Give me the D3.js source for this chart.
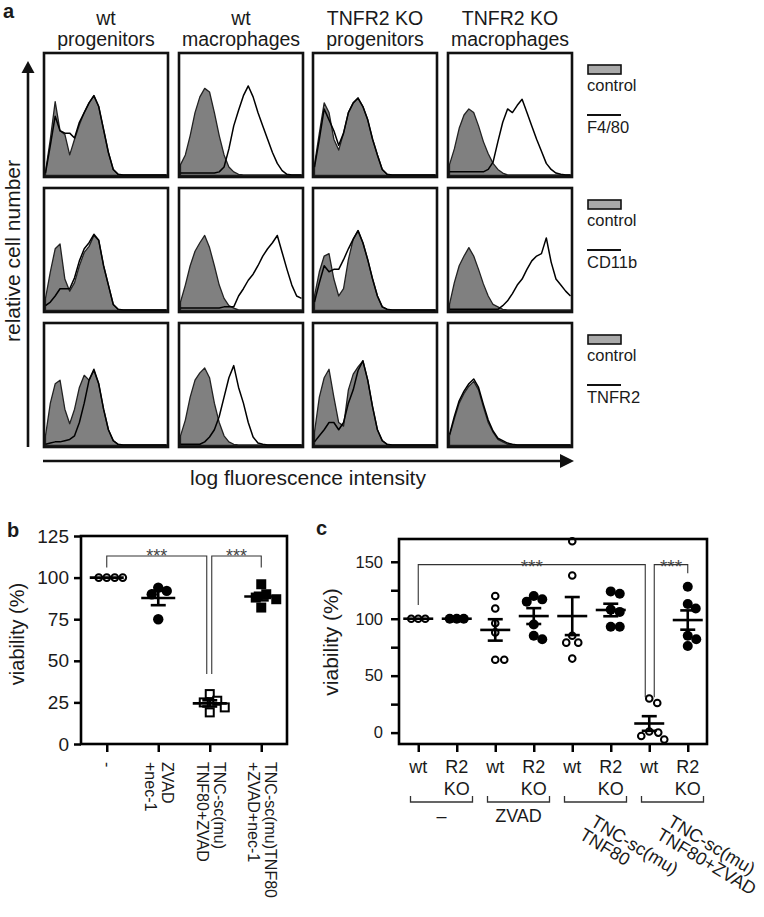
<!DOCTYPE html>
<html><head><meta charset="utf-8">
<script src="https://cdn.jsdelivr.net/npm/d3@7"></script>
<style>body{margin:0;background:#fff}</style>
</head><body>
<svg id="chart" width="764" height="917"></svg>
<script>
// ---------------- DATA ----------------
// Panel a: flow cytometry histograms, sampled at log-intensity bins (0..100)
const binCenters = [0,4,8,12,16,20,24,28,32,36,40,44,48,52,56,60,64,68,72,76,80,84,88,92,96,100];
const colTitles = [["wt","progenitors"],["wt","macrophages"],["TNFR2 KO","progenitors"],["TNFR2 KO","macrophages"]];
const markers = ["F4/80","CD11b","TNFR2"];
const legendControl = "control";

const ctrlF480 = [
  [3,30,61,37,34,17,30,42,52,60,66,57,38,19,5,1,0.5,0.5,0.5,0.5,0.5,0.5,0.5,0.5,0.5,0.5],
  [9,17,33,52,65,72,69,52,33,17,7,3,1,0.5,0.5,0.5,0.5,0.5,0.5,0.5,0.5,0.5,0.5,0.5,0.5,0.5],
  [9,35,60,52,30,21,35,52,60,64,57,46,30,17,5,1,0.5,0.5,0.5,0.5,0.5,0.5,0.5,0.5,0.5,0.5],
  [9,22,39,50,55,52,41,28,18,10,5,2,0.5,0.5,0.5,0.5,0.5,0.5,0.5,0.5,0.5,0.5,0.5,0.5,0.5,0.5]
];
const stainF480 = [
  [2,25,49,37,35,35,31,44,52,60,66,57,38,19,5,1,0.5,0.5,0.5,0.5,0.5,0.5,0.5,0.5,0.5,0.5],
  [2,2,2,2,2,2,2,2,3,7,22,41,54,66,74,65,52,41,30,19,10,4,1,0.5,0.5,0.5],
  [7,30,55,46,37,25,35,52,60,64,57,46,30,17,5,1,0.5,0.5,0.5,0.5,0.5,0.5,0.5,0.5,0.5,0.5],
  [3,3,3,3,3,3,3,3,5,11,28,44,55,52,58,63,52,41,30,20,10,5,2,1,0.5,0.5]
];
const ctrlCD11b = [
  [10,32,51,55,26,16,23,37,48,53,62,58,37,21,5,1,0.5,0.5,0.5,0.5,0.5,0.5,0.5,0.5,0.5,0.5],
  [7,21,37,49,56,62,52,37,21,10,4,2,0.5,0.5,0.5,0.5,0.5,0.5,0.5,0.5,0.5,0.5,0.5,0.5,0.5,0.5],
  [12,32,45,47,26,12,18,42,59,66,56,42,26,12,3,1,0.5,0.5,0.5,0.5,0.5,0.5,0.5,0.5,0.5,0.5],
  [5,23,37,45,52,45,34,22,12,5,3,1,0.5,0.5,0.5,0.5,0.5,0.5,0.5,0.5,0.5,0.5,0.5,0.5,0.5,0.5]
];
const stainCD11b = [
  [4,7,12,18,18,18,27,41,51,56,63,58,37,21,5,1,0.5,0.5,0.5,0.5,0.5,0.5,0.5,0.5,0.5,0.5],
  [2,2,2,2,2,2,2,2,2,3,3,3,12,18,25,30,37,45,51,56,62,48,34,21,12,10],
  [7,23,37,32,34,34,42,51,59,66,56,42,26,12,3,1,0.5,0.5,0.5,0.5,0.5,0.5,0.5,0.5,0.5,0.5],
  [1,1,1,1,1,1,1,1,1,1,1,4,8,14,21,26,34,41,45,47,60,40,26,21,16,12]
];
const ctrlTNFR2 = [
  [8,35,51,54,30,18,30,48,58,54,62,51,30,13,4,1,0.5,0.5,0.5,0.5,0.5,0.5,0.5,0.5,0.5,0.5],
  [8,21,40,54,60,64,56,35,19,8,3,1,0.5,0.5,0.5,0.5,0.5,0.5,0.5,0.5,0.5,0.5,0.5,0.5,0.5,0.5],
  [11,40,56,63,40,19,16,46,59,65,70,54,32,13,4,1,0.5,0.5,0.5,0.5,0.5,0.5,0.5,0.5,0.5,0.5],
  [8,22,35,43,49,53,46,32,19,11,5,3,1,0.5,0.5,0.5,0.5,0.5,0.5,0.5,0.5,0.5,0.5,0.5,0.5,0.5]
];
const stainTNFR2 = [
  [1,2,3,3,4,5,8,19,35,54,63,51,30,13,4,1,0.5,0.5,0.5,0.5,0.5,0.5,0.5,0.5,0.5,0.5],
  [1,1,1,1,1,3,7,13,24,40,56,66,48,35,19,7,2,1,0.5,0.5,0.5,0.5,0.5,0.5,0.5,0.5],
  [3,8,13,19,19,13,19,35,46,62,70,54,32,13,4,1,0.5,0.5,0.5,0.5,0.5,0.5,0.5,0.5,0.5,0.5],
  [9,24,37,45,51,55,48,34,21,12,6,4,2,1,0.5,0.5,0.5,0.5,0.5,0.5,0.5,0.5,0.5,0.5,0.5,0.5]
];

// Panel b
const bCategories = [["-"],["ZVAD","+nec-1"],["TNC-sc(mu)","TNF80+ZVAD"],["TNC-sc(mu)TNF80","+ZVAD+nec-1"]];
const bValues = [[100,100,100,100],[92,90,94,75],[30,26,25,22,19],[96,90,88,87,82]];
const bMarkers = ["circleOpen","circle","squareOpen","square"];
const bTicks = [0,25,50,75,100,125];

// Panel c
const cGenotypes = ["wt",["R2","KO"],"wt",["R2","KO"],"wt",["R2","KO"],"wt",["R2","KO"]];
const cValues = [
  [100,100,100],[100,100,100],
  [120,109,96,88,64,64],[120,117,115,95,85,82],
  [168,138,85,79,79,65],[124,122,108,106,93,93],
  [30,26,1,0,-3,-6],[128,113,109,85,82,76]
];
const cMarkers = ["circleOpen","circle","circleOpen","circle","circleOpen","circle","circleOpen","circle"];
const cTreatments = [["–"],["ZVAD"],["TNC-sc(mu)","TNF80"],["TNC-sc(mu)","TNF80+ZVAD"]];
const cTicks = [0,25,50,75,100,125,150];
const yTitle = "viability (%)";
const stars = "***";

// ---------------- DRAW ----------------
const FONT = "'Liberation Sans', Arial, Helvetica, sans-serif";
const svg = d3.select("#chart").style("font-family", FONT);
svg.append("rect").attr("width",764).attr("height",917).attr("fill","#fff");
const INK = "#1a1a1a";

// ===== Panel a =====
svg.append("text").text("a").attr("x",3).attr("y",18).attr("font-weight","bold").attr("font-size",20).attr("fill",INK);
const colX = [44,179,313,448], rowY = [53,188,323], BW = 124, BH = 124;
colTitles.forEach((t, ci) => {
  t.forEach((s, li) => {
    svg.append("text").text(s).attr("x", colX[ci] + BW/2).attr("y", 25 + li*21)
      .attr("text-anchor","middle").attr("font-size",19.5).attr("fill",INK);
  });
});
const rowsData = [
  {ctrl: ctrlF480, stain: stainF480, name: markers[0]},
  {ctrl: ctrlCD11b, stain: stainCD11b, name: markers[1]},
  {ctrl: ctrlTNFR2, stain: stainTNFR2, name: markers[2]}
];
rowsData.forEach((row, ri) => {
  const y0 = rowY[ri];
  colX.forEach((x0, ci) => {
    const x = d3.scaleLinear([0,100],[x0+1.5, x0+BW-1.5]);
    const y = d3.scaleLinear([0,100],[y0+BH-1.5, y0+1.5]);
    const area = d3.area().x((d,i)=>x(binCenters[i])).y0(y(0)).y1(d=>y(d));
    const line = d3.line().x((d,i)=>x(binCenters[i])).y(d=>y(d));
    svg.append("path").attr("d", area(row.ctrl[ci])).attr("fill","#808080")
      .attr("stroke","#222").attr("stroke-width",1.3).attr("stroke-linejoin","round");
    svg.append("path").attr("d", line(row.stain[ci])).attr("fill","none")
      .attr("stroke","#000").attr("stroke-width",1.5).attr("stroke-linejoin","round");
    svg.append("rect").attr("x",x0).attr("y",y0).attr("width",BW).attr("height",BH)
      .attr("fill","none").attr("stroke","#111").attr("stroke-width",2.6);
  });
  // legend
  svg.append("rect").attr("x",588).attr("y",y0+12).attr("width",33).attr("height",9)
    .attr("fill","#a9a9a9").attr("stroke","#111").attr("stroke-width",1.6);
  svg.append("text").text(legendControl).attr("x",587).attr("y",y0+38).attr("font-size",16.5).attr("fill",INK);
  svg.append("line").attr("x1",587).attr("x2",621).attr("y1",y0+62).attr("y2",y0+62).attr("stroke","#111").attr("stroke-width",2);
  svg.append("text").text(row.name).attr("x",587).attr("y",y0+80).attr("font-size",16.5).attr("fill",INK);
});
// axis arrows
svg.append("line").attr("x1",28).attr("x2",28).attr("y1",447).attr("y2",70).attr("stroke","#111").attr("stroke-width",2.6);
svg.append("path").attr("d","M28,61 L21.5,73 L34.5,73 Z").attr("fill","#111");
svg.append("line").attr("x1",43).attr("x2",562).attr("y1",461).attr("y2",461).attr("stroke","#111").attr("stroke-width",2.6);
svg.append("path").attr("d","M574,461 L560,454 L560,468 Z").attr("fill","#111");
svg.append("text").text("relative cell number").attr("transform","translate(20,251) rotate(-90)")
  .attr("text-anchor","middle").attr("font-size",21).attr("fill",INK);
svg.append("text").text("log fluorescence intensity").attr("x",308).attr("y",485)
  .attr("text-anchor","middle").attr("font-size",21).attr("fill",INK);

// ===== helpers =====
function swarmOffsets(vals, yScale, d) {
  const placed = [], off = new Array(vals.length);
  const order = d3.range(vals.length).sort((a,b)=>d3.descending(vals[a],vals[b]));
  for (const i of order) {
    const py = yScale(vals[i]);
    for (let k=0; k<400; k++) {
      const dx = (k%2===1 ? 1 : -1) * Math.ceil(k/2) * 0.5;
      if (placed.every(p => (p.x-dx)**2 + (p.y-py)**2 >= d*d)) {
        off[i] = dx === 0 ? 0 : dx; placed.push({x:dx, y:py}); break;
      }
    }
  }
  return off;
}
function drawMarker(gs, type, cx, cy, sz) {
  if (type === "circleOpen") {
    gs.append("circle").attr("cx",cx).attr("cy",cy).attr("r",sz.ro).attr("fill","#fff").attr("stroke","#000").attr("stroke-width",2);
  } else if (type === "circle") {
    gs.append("circle").attr("cx",cx).attr("cy",cy).attr("r",sz.rf).attr("fill","#000");
  } else if (type === "squareOpen") {
    gs.append("rect").attr("x",cx-sz.so/2).attr("y",cy-sz.so/2).attr("width",sz.so).attr("height",sz.so).attr("fill","#fff").attr("stroke","#000").attr("stroke-width",2);
  } else {
    gs.append("rect").attr("x",cx-sz.sf/2).attr("y",cy-sz.sf/2).attr("width",sz.sf).attr("height",sz.sf).attr("fill","#000");
  }
}
function drawGroup(gs, vals, type, xc, y, sz, spacing, meanW, capW) {
  const offs = swarmOffsets(vals, y, spacing);
  vals.forEach((v,i)=>drawMarker(gs, type, xc+offs[i], y(v), sz));
  const m = d3.mean(vals);
  const sem = vals.length > 1 ? d3.deviation(vals)/Math.sqrt(vals.length) : 0;
  const sw = 2.6;
  gs.append("line").attr("x1",xc-meanW/2).attr("x2",xc+meanW/2).attr("y1",y(m)).attr("y2",y(m)).attr("stroke","#000").attr("stroke-width",sw);
  if (sem > 0.3) {
    gs.append("line").attr("x1",xc).attr("x2",xc).attr("y1",y(m-sem)).attr("y2",y(m+sem)).attr("stroke","#000").attr("stroke-width",sw);
    [m-sem, m+sem].forEach(e => gs.append("line").attr("x1",xc-capW/2).attr("x2",xc+capW/2).attr("y1",y(e)).attr("y2",y(e)).attr("stroke","#000").attr("stroke-width",sw));
  }
}
function bracket(gs, pts, y) {
  const line = d3.line().x(d=>d[0]).y(d=>y(d[1]));
  gs.append("path").attr("d", line(pts)).attr("fill","none").attr("stroke","#333").attr("stroke-width",1.1);
}

// ===== Panel b =====
{
  const L=81, R=287, T=536, B=744;
  const x = d3.scalePoint().domain(d3.range(bValues.length)).range([L,R]).padding(0.5);
  const y = d3.scaleLinear([0,125],[B,T]);
  const gb = svg.append("g");
  gb.append("text").text("b").attr("x",7).attr("y",537).attr("font-weight","bold").attr("font-size",20).attr("fill",INK);
  const ax = gb.append("g").attr("transform",`translate(${L},0)`)
    .call(d3.axisLeft(y).tickValues(bTicks).tickSize(7).tickPadding(5));
  ax.select(".domain").remove();
  ax.selectAll("line").attr("stroke","#000").attr("stroke-width",2.5);
  ax.selectAll("text").attr("font-size",19).attr("font-family",FONT).attr("fill",INK);
  const axb = gb.append("g").attr("transform",`translate(0,${B})`)
    .call(d3.axisBottom(x).tickSize(8).tickFormat(""));
  axb.select(".domain").remove();
  axb.selectAll("line").attr("stroke","#000").attr("stroke-width",2.5);
  gb.append("text").text(yTitle).attr("transform","translate(24,634) rotate(-90)")
    .attr("text-anchor","middle").attr("font-size",20).attr("fill",INK);
  // brackets
  bracket(gb, [[x(0),106],[x(0),113],[x(2)-3,113],[x(2)-3,42]], y);
  bracket(gb, [[x(2)+2,42],[x(2)+2,113],[x(3),113],[x(3),106]], y);
  [[x(0),x(2)-3],[x(2)+2,x(3)]].forEach(([a,b]) => gb.append("text").text(stars)
    .attr("x",(a+b)/2).attr("y",562).attr("text-anchor","middle").attr("font-size",18).attr("fill","#444"));
  // data
  const sz = {ro:3.4, rf:5.2, so:8, sf:10};
  const spacing = [8, 9, 10, 11];
  bValues.forEach((vals, gi) => drawGroup(gb, vals, bMarkers[gi], x(gi), y, sz, spacing[gi], 34, 15));
  gb.append("rect").attr("x",L).attr("y",T).attr("width",R-L).attr("height",B-T).attr("fill","none").attr("stroke","#000").attr("stroke-width",2.6);
  // category labels (rotated)
  bCategories.forEach((lines, gi) => {
    lines.forEach((s, li) => {
      const off = lines.length === 1 ? -5 : (li === 0 ? 4 : -13);
      gb.append("text").text(s).attr("transform",`translate(${x(gi)+off},762) rotate(90)`)
        .attr("font-size",16).attr("fill",INK);
    });
  });
}

// ===== Panel c =====
{
  const L=399, R=707, T=539, B=744;
  const x = d3.scalePoint().domain(d3.range(cValues.length)).range([L,R]).padding(0.5);
  const y = d3.scaleLinear([-10,170],[B,T]);
  const gc = svg.append("g");
  gc.append("text").text("c").attr("x",316).attr("y",535).attr("font-weight","bold").attr("font-size",20).attr("fill",INK);
  const ax = gc.append("g").attr("transform",`translate(${L},0)`)
    .call(d3.axisLeft(y).tickValues(cTicks).tickSize(8).tickPadding(8).tickFormat(d => d % 50 === 0 ? d : ""));
  ax.select(".domain").remove();
  ax.selectAll("line").attr("stroke","#000").attr("stroke-width",2.5);
  ax.selectAll("text").attr("font-size",16.5).attr("font-family",FONT).attr("fill",INK);
  const axb = gc.append("g").attr("transform",`translate(0,${B})`)
    .call(d3.axisBottom(x).tickSize(8).tickFormat(""));
  axb.select(".domain").remove();
  axb.selectAll("line").attr("stroke","#000").attr("stroke-width",2.5);
  gc.append("text").text(yTitle).attr("transform","translate(338,642) rotate(-90)")
    .attr("text-anchor","middle").attr("font-size",21).attr("fill",INK);
  // brackets
  bracket(gc, [[x(0),112],[x(0),147.5],[x(6)-4,147.5],[x(6)-4,31]], y);
  bracket(gc, [[x(6)+5,31],[x(6)+5,147.5],[x(7),147.5],[x(7),140]], y);
  [[x(0),x(6)-4],[x(6)+5,x(7)]].forEach(([a,b]) => gc.append("text").text(stars)
    .attr("x",(a+b)/2).attr("y",573).attr("text-anchor","middle").attr("font-size",19).attr("fill","#444"));
  // data
  const sz = {ro:3.3, rf:5, so:8, sf:10};
  cValues.forEach((vals, gi) => drawGroup(gc, vals, cMarkers[gi], x(gi), y, sz, gi < 2 ? 7 : 9, 30, 15));
  gc.append("rect").attr("x",L).attr("y",T).attr("width",R-L).attr("height",B-T).attr("fill","none").attr("stroke","#000").attr("stroke-width",2.6);
  // genotype labels
  cGenotypes.forEach((gname, gi) => {
    const lines = Array.isArray(gname) ? gname : [gname];
    lines.forEach((s, li) => gc.append("text").text(s).attr("x",x(gi)).attr("y",773 + li*22)
      .attr("text-anchor","middle").attr("font-size",18).attr("fill",INK));
  });
  // treatment brackets + labels
  cTreatments.forEach((lines, ti) => {
    const cx = (x(2*ti) + x(2*ti+1))/2 + 4;
    gc.append("path").attr("d",`M${cx-31},796 L${cx-31},802 L${cx+31},802 L${cx+31},796`)
      .attr("fill","none").attr("stroke","#333").attr("stroke-width",1.3);
    if (lines.length === 1) {
      gc.append("text").text(lines[0]).attr("x",cx).attr("y",822).attr("text-anchor","middle")
        .attr("font-size",18).attr("fill",INK);
    } else {
      const t = gc.append("text").attr("transform",`translate(${cx-6},825) rotate(31)`)
        .attr("font-size",18).attr("fill",INK);
      lines.forEach((s, li) => t.append("tspan").text(s).attr("x", li === 0 ? 0 : -3).attr("dy", li === 0 ? 0 : 17));
    }
  });
}
</script>
</body></html>
